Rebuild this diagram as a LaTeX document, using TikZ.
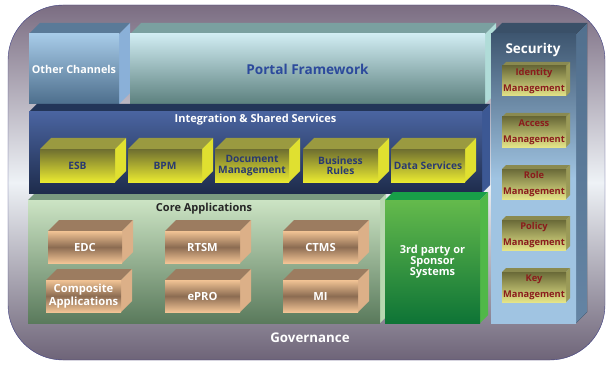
\documentclass[tikz,border=0pt]{standalone}
\usepackage{fontspec}
\setmainfont{Open Sans}
\usepackage{tikz}
\usepackage{xcolor}

% faces of one block: front, top, side
\newcommand{\block}[8]{%
\fill[#7top] (#2,#3) -- ++(#6,-#6) -- ++(#4,0) -- ++(-#6,#6) -- cycle;
\fill[#7side] (#2+#4,#3) -- ++(#6,-#6) -- ++(0,#5) -- ++(-#6,#6) -- cycle;
\fill[#7front] (#2,#3) rectangle ++(#4,#5);
\node [#7text] (#1) at (#2+#4/2,#3+#5/2) {#8};
}

\tikzset{
  ochtop/.style={fill=ochtopc},
  ochside/.style={fill=ochsidec},
  ochfront/.style={top color=ochhi,bottom color=ochlo},
  ochtext/.style={font=\bfseries\fontsize{10.8}{12}\selectfont,text=white},
  portop/.style={fill=portopc},
  porside/.style={fill=porsidec},
  porfront/.style={top color=porhi,bottom color=porlo},
  portext/.style={font=\bfseries\fontsize{13.6}{15}\selectfont,text=portxt},
  inttop/.style={fill=inttopc},
  intside/.style={fill=intsidec},
  intfront/.style={top color=inthi,bottom color=intlo},
  inttext/.style={},
  yeltop/.style={fill=yeltopc},
  yelside/.style={fill=yelsidec},
  yelfront/.style={top color=yelhi,bottom color=yello},
  yeltext/.style={font=\bfseries\fontsize{10.2}{10.5}\selectfont,text=yeltxt,align=center},
  cortop/.style={fill=cortopc},
  corside/.style={fill=corsidec},
  corfront/.style={top color=corhi,bottom color=corlo},
  cortext/.style={},
  brntop/.style={fill=brntopc},
  brnside/.style={fill=brnsidec},
  brnfront/.style={top color=brnhi,bottom color=brnhi,middle color=brnmid},
  brntext/.style={font=\bfseries\fontsize{11.2}{10.5}\selectfont,text=white,align=center},
  grntop/.style={fill=grntopc},
  grnside/.style={fill=grnsidec},
  grnfront/.style={top color=grnhi,bottom color=grnlo},
  grntext/.style={font=\bfseries\fontsize{11}{11}\selectfont,text=white,align=center},
  sectop/.style={fill=sectopc},
  secside/.style={top color=secsidehi,bottom color=secsidelo},
  secfront/.style={top color=sechi,bottom color=secmid,middle color=secmid},
  sectext/.style={},
  idmtop/.style={fill=idmtopc},
  idmside/.style={fill=idmsidec},
  idmfront/.style={top color=idmhi,bottom color=idmlo},
  idmtext/.style={font=\bfseries\fontsize{9.3}{16}\selectfont,text=idmtxt,align=center},
  title/.style={font=\bfseries\fontsize{11}{13}\selectfont}
}

\definecolor{bghi}{HTML}{7B6D82}
\definecolor{bgmid}{HTML}{EEF2F6}
\definecolor{bglo}{HTML}{6E6478}
\definecolor{bgline}{HTML}{3C3C80}
\definecolor{ochtopc}{HTML}{5A7A98}
\definecolor{ochsidec}{HTML}{8AB0D8}
\definecolor{ochhi}{HTML}{A7CBE8}
\definecolor{ochlo}{HTML}{4D6E8C}
\definecolor{portopc}{HTML}{7AA0A0}
\definecolor{porsidec}{HTML}{B0DCD8}
\definecolor{porhi}{HTML}{D0ECF2}
\definecolor{porlo}{HTML}{5C807E}
\definecolor{portxt}{HTML}{2C4A9C}
\definecolor{inttopc}{HTML}{233558}
\definecolor{intsidec}{HTML}{3C5894}
\definecolor{inthi}{HTML}{4A64A0}
\definecolor{intlo}{HTML}{1E2C4C}
\definecolor{yeltopc}{HTML}{9A9A40}
\definecolor{yelsidec}{HTML}{E0E030}
\definecolor{yelhi}{HTML}{6E6E30}
\definecolor{yello}{HTML}{EAEA30}
\definecolor{yeltxt}{HTML}{2A3A70}
\definecolor{cortopc}{HTML}{7A9A80}
\definecolor{corsidec}{HTML}{B8D8B0}
\definecolor{corhi}{HTML}{CCE4C4}
\definecolor{corlo}{HTML}{5A7A5C}
\definecolor{brntopc}{HTML}{9C7C60}
\definecolor{brnsidec}{HTML}{DCB088}
\definecolor{brnhi}{HTML}{F2C495}
\definecolor{brnmid}{HTML}{8C6C52}
\definecolor{grntopc}{HTML}{18A048}
\definecolor{grnsidec}{HTML}{50B848}
\definecolor{grnhi}{HTML}{64BA4C}
\definecolor{grnlo}{HTML}{0E7436}
\definecolor{sectopc}{HTML}{3A5068}
\definecolor{secsidehi}{HTML}{52708E}
\definecolor{secsidelo}{HTML}{6484A4}
\definecolor{sechi}{HTML}{3E5670}
\definecolor{secmid}{HTML}{A0C4E2}
\definecolor{idmtopc}{HTML}{8A8A50}
\definecolor{idmsidec}{HTML}{9A9A58}
\definecolor{idmhi}{HTML}{6A6A38}
\definecolor{idmlo}{HTML}{E4E488}
\definecolor{idmtxt}{HTML}{8B1C1C}

\begin{document}
\begin{tikzpicture}[x=1pt,y=-1pt]
\useasboundingbox (0,0) rectangle (609,366);

% background
\shade[top color=bghi,bottom color=bglo,middle color=bgmid,rounded corners=55pt] (8,5) rectangle (605,360);
\draw[bgline,rounded corners=55pt] (8,5) rectangle (605,360);

% layers
\block{och}{29}{34}{90}{70}{11}{och}{Other Channels}
\block{portal}{130}{34}{355}{70}{11}{por}{Portal Framework}
\block{integ}{29}{112}{453}{81}{8}{int}{}
\block{core}{28}{200}{352}{123}{6}{cor}{}
\block{third}{385}{200}{95}{123}{8}{grn}{3rd party or\\Sponsor\\Systems}
\block{secu}{491}{34}{85}{289}{11}{sec}{}

\node [title,text=white] (integt) at (255.5,120) {Integration \& Shared Services};
\node [title,text=black!85] (coret) at (204,209) {Core Applications};
\node [font=\bfseries\fontsize{13.5}{15}\selectfont,text=white] (sect) at (533,50) {Security};
\node [font=\bfseries\fontsize{13.3}{15}\selectfont,text=white] (gov) at (310,338) {Governance};

% integration blocks
\block{esb}{40}{149}{75}{33}{11}{yel}{ESB}
\block{bpm}{128}{149}{74}{33}{11}{yel}{BPM}
\block{doc}{215}{149}{74}{33}{11}{yel}{Document\\Management}
\block{rules}{303}{149}{75}{33}{11}{yel}{Business\\Rules}
\block{data}{391}{149}{74}{33}{11}{yel}{Data Services}

% core applications
\block{edc}{48}{231}{74}{32}{11}{brn}{EDC}
\block{rtsm}{165}{231}{75}{32}{11}{brn}{RTSM}
\block{ctms}{283}{231}{75}{32}{11}{brn}{CTMS}
\block{comp}{46}{280}{75}{32}{11}{brn}{Composite\\Applications}
\block{epro}{165}{280}{75}{32}{11}{brn}{ePRO}
\block{mi}{283}{280}{75}{32}{11}{brn}{MI}

% security
\block{ident}{502}{66}{64}{30}{4}{idm}{Identity\\Management}
\block{access}{502}{117}{64}{30}{4}{idm}{Access\\Management}
\block{role}{502}{169}{64}{30}{4}{idm}{Role\\Management}
\block{policy}{502}{220}{64}{30}{4}{idm}{Policy\\Management}
\block{key}{502}{272}{64}{30}{4}{idm}{Key\\Management}
\end{tikzpicture}
\end{document}
